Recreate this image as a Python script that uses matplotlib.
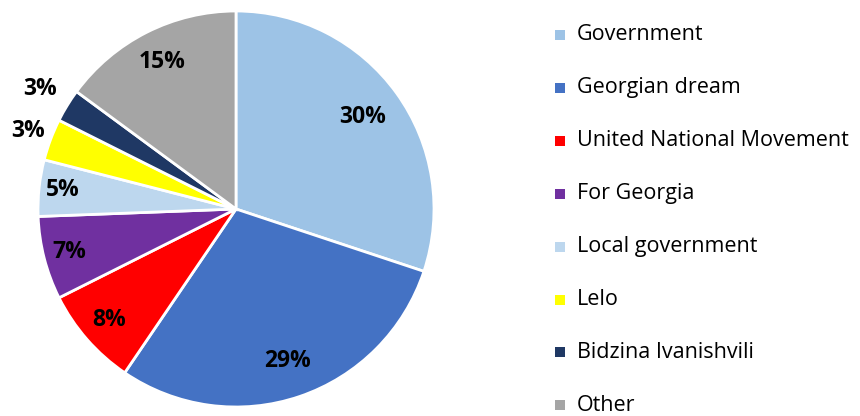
import numpy as np
import matplotlib
matplotlib.use("Agg")
import matplotlib.pyplot as plt
from matplotlib.patches import Rectangle

parties = ["Government", "Georgian dream", "United National Movement", "For Georgia",
           "Local government", "Lelo", "Bidzina Ivanishvili", "Other"]
shares = [30.1, 29.4, 8.1, 6.8, 4.6, 3.4, 2.7, 14.9]
colors = ["#9DC3E6", "#4472C4", "#FF0000", "#7030A0",
          "#BDD7EE", "#FFFF00", "#1F3864", "#A5A5A5"]
# label distance from the centre, as fraction of radius
label_dist = [0.79, 0.81, 0.85, 0.87, 0.88, 1.12, 1.16, 0.83]

plt.rcParams['font.family'] = ['Open Sans', 'DejaVu Sans']

W, H = 860, 416
fig = plt.figure(figsize=(W / 100, H / 100), dpi=100)

cx, cy, r = 236, 209, 198
ax = fig.add_axes([(cx - r) / W, (H - cy - r) / H, 2 * r / W, 2 * r / H])
wedges, _ = ax.pie(shares, colors=colors, startangle=90, counterclock=False,
                   radius=1, wedgeprops=dict(edgecolor="white", linewidth=2))
ax.set_xlim(-1, 1)
ax.set_ylim(-1, 1)
ax.set_aspect("equal")
ax.axis("off")

for w, val, d in zip(wedges, shares, label_dist):
    ang = np.deg2rad((w.theta1 + w.theta2) / 2)
    ax.text(d * np.cos(ang), d * np.sin(ang), f"{round(val)}%",
            ha="center", va="center", fontsize=16.5, fontweight="bold", color="black")

# legend
y0, step = 35, 52.9
for i, (name, c) in enumerate(zip(parties, colors)):
    y = y0 + i * step
    fig.patches.append(Rectangle((555 / W, (H - y - 5) / H), 10 / W, 10 / H,
                                 transform=fig.transFigure, facecolor=c, edgecolor="none"))
    fig.text(577 / W, (H - y) / H, name, ha="left", va="center", fontsize=15.5, color="black")

fig.savefig("out.png", dpi=100)
